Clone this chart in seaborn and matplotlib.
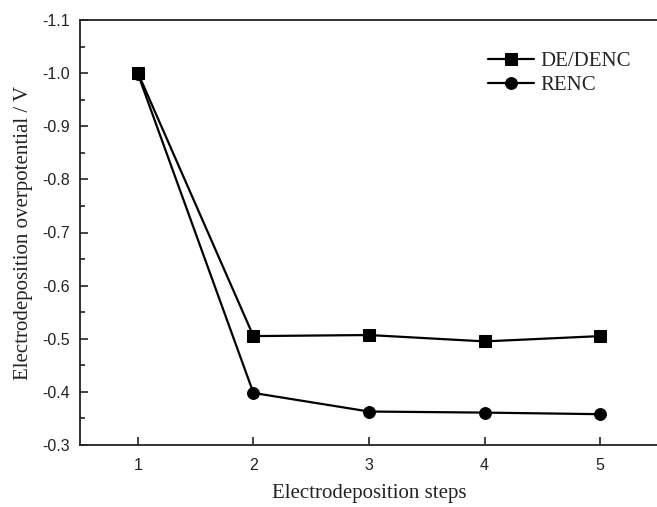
import matplotlib
matplotlib.use("Agg")
import matplotlib.pyplot as plt
import seaborn as sns
import pandas as pd
from matplotlib.ticker import MultipleLocator, FormatStrFormatter

steps = [1, 2, 3, 4, 5]
de_denc = [-1.001, -0.505, -0.507, -0.495, -0.505]
renc = [-0.999, -0.398, -0.363, -0.361, -0.358]
series_names = ["DE/DENC", "RENC"]

df = pd.concat([
    pd.DataFrame({"step": steps, "value": de_denc, "series": series_names[0]}),
    pd.DataFrame({"step": steps, "value": renc, "series": series_names[1]}),
])

sns.set_theme(style="ticks")
plt.rcParams["axes.unicode_minus"] = False

fig = plt.figure(figsize=(6.57, 5.07), dpi=100)
W, H = 657, 507
ax = fig.add_axes([80 / W, (H - 445) / H, (658 - 80) / W, (445 - 20) / H])

sns.lineplot(data=df, x="step", y="value", hue="series", style="series",
             markers={"DE/DENC": "s", "RENC": "o"}, dashes=False,
             palette={"DE/DENC": "black", "RENC": "black"},
             markersize=8.5, linewidth=1.6, markeredgecolor="black",
             ax=ax)

ax.set_xlim(0.5, 5.5)
ax.set_ylim(-0.3, -1.1)
ax.xaxis.set_major_locator(MultipleLocator(1))
ax.yaxis.set_major_locator(MultipleLocator(0.1))
ax.yaxis.set_minor_locator(MultipleLocator(0.05))
ax.yaxis.set_major_formatter(FormatStrFormatter("%.1f"))

for s in ax.spines.values():
    s.set_linewidth(1.3)
    s.set_color("#222222")

ax.tick_params(axis="both", which="major", direction="in", length=6, width=1.2,
               labelsize=11.5, colors="#222222")
ax.tick_params(axis="x", which="major", pad=9)
ax.tick_params(axis="y", which="major", pad=7)
ax.tick_params(axis="y", which="minor", direction="in", length=3.5, width=1.2,
               colors="#222222")
for lab in ax.get_xticklabels() + ax.get_yticklabels():
    lab.set_fontfamily("Liberation Sans")
    lab.set_color("#222222")

ax.set_xlabel("Electrodeposition steps", fontfamily="Liberation Serif",
              fontsize=15, labelpad=8, color="#222222")
ax.set_ylabel("Electrodeposition overpotential / V", fontfamily="Liberation Serif",
              fontsize=15, labelpad=7, color="#222222")

leg = ax.legend(title=None, loc="upper right", bbox_to_anchor=(0.985, 0.97),
                frameon=False, prop={"family": "Liberation Serif", "size": 15},
                handlelength=2.2, handletextpad=0.3, labelspacing=0.2)

fig.savefig("out.png", dpi=100)
